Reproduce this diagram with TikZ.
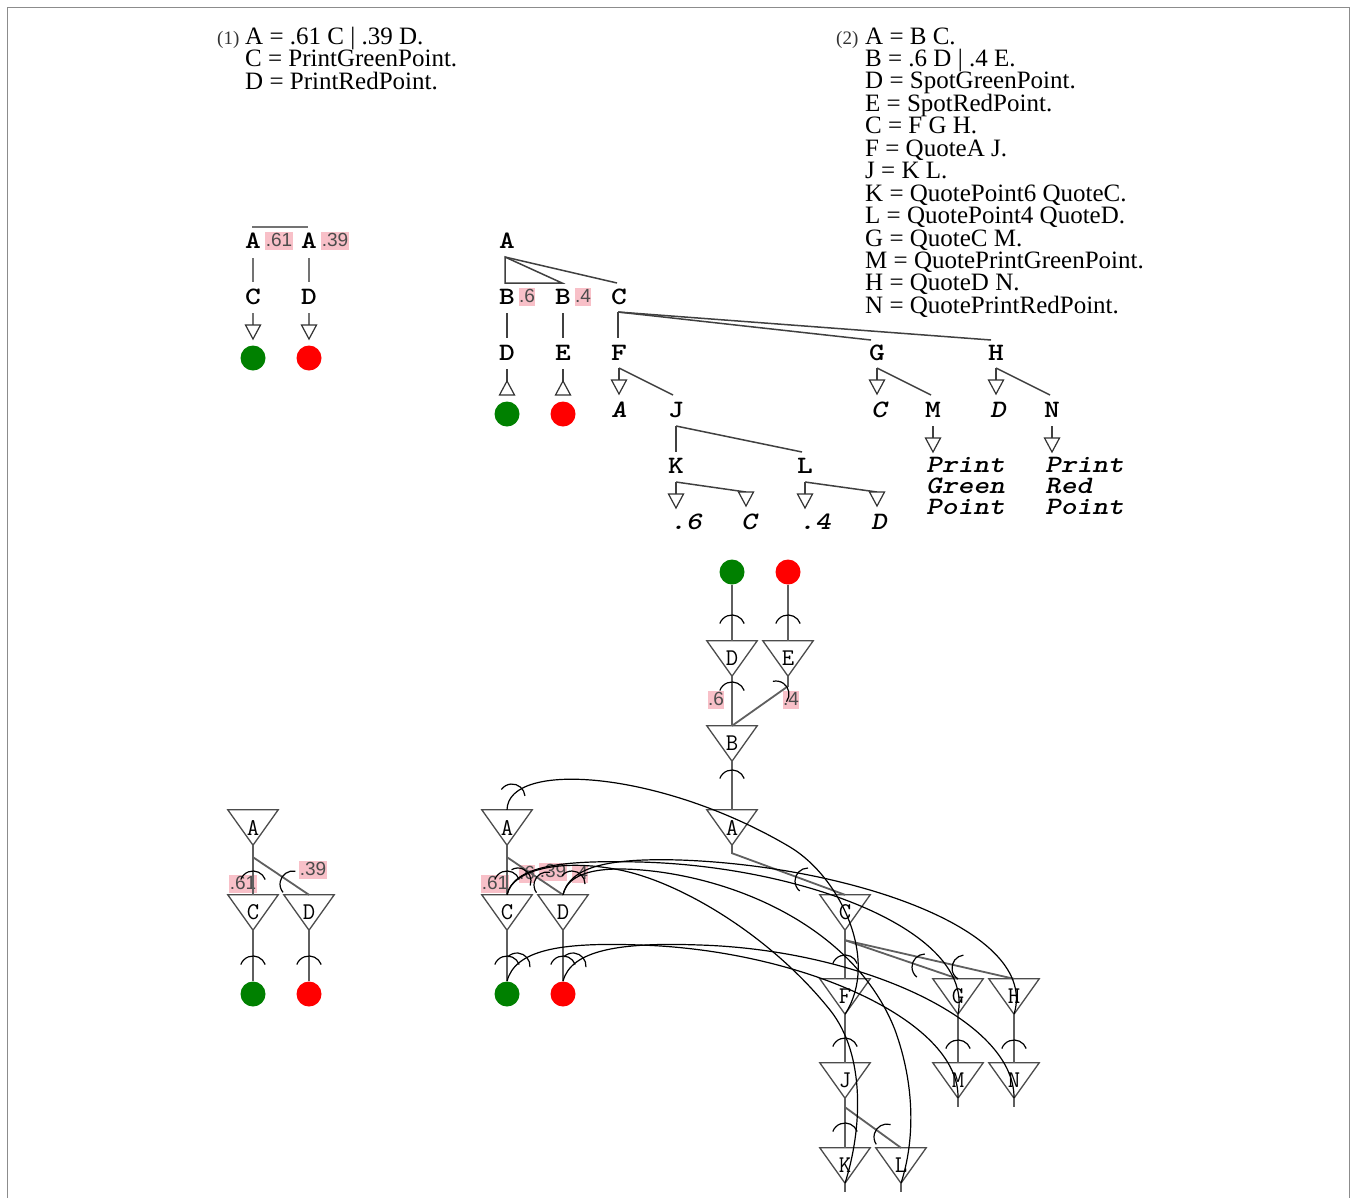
\documentclass[tikz,border=0pt]{standalone}
\usepackage{fontspec}
\setmainfont{Liberation Serif}
\newfontfamily\treefont[Extension=.otf, UprightFont=*-bold, ItalicFont=*-boldoblique, BoldFont=*-bold, BoldItalicFont=*-boldoblique, FakeStretch=1.2]{lmmonolt10}
\newfontfamily\labfont{Liberation Sans}
\usetikzlibrary{calc}
\definecolor{pinkbg}{RGB}{248,192,200}
\definecolor{ggreen}{RGB}{0,128,0}
\definecolor{rred}{RGB}{255,0,0}
\definecolor{edgegray}{RGB}{95,95,95}
\tikzset{
 gtext/.style={anchor=base west, inner sep=0, font=\fontsize{25}{22.5}\selectfont},
 numtext/.style={anchor=base west, inner sep=0, font=\fontsize{19}{19}\selectfont, text=black!80},
 tletter/.style={inner sep=0, font=\treefont\fontsize{25}{22}\selectfont},
 titalic/.style={inner sep=0, font=\treefont\itshape\fontsize{25}{21}\selectfont},
 pblock/.style={anchor=north west, inner sep=0, align=left, font=\treefont\itshape\fontsize{25}{21}\selectfont},
 plab/.style={fill=pinkbg, inner xsep=0.5pt, inner ysep=1pt, text=black!70, font=\labfont\fontsize{19}{19}\selectfont, text height=13.5pt, text depth=2pt},
 tri/.style={rectangle, minimum width=50pt, minimum height=35pt, inner sep=0, font=\ttfamily\fontsize{24}{24}\selectfont},
 triline/.style={draw=black!70, line width=1.3pt, line join=miter},
 edge/.style={draw=edgegray, line width=1.8pt},
 curve/.style={draw=black, line width=1.2pt},
 marcst/.style={draw=black, line width=1.2pt},
 dot/.style={circle, minimum size=25pt, inner sep=0},
 oarrow/.style={draw=black!80, line width=1.2pt, fill=white, line join=miter},
 tline/.style={draw=black!75, line width=1.5pt},
 gline/.style={draw=black!55, line width=1.8pt},
}
\newcommand\marc[3]{\draw[marcst] ($(#1,#2)+({#3-70}:13pt)$) arc[start angle={#3-70}, end angle={#3+70}, radius=13pt];}
\newcommand\darrow[2][tline]{\draw[#1] #2 -- ++(0,12) coordinate (tmpa); \draw[oarrow] (tmpa) ++(-7.5,0) -- ++(15,0) -- ++(-7.5,14) -- cycle;}
\newcommand\uarrow[1]{\draw[tline] #1 -- ++(0,12) coordinate (tmpa); \draw[oarrow] (tmpa) -- ++(-7.5,14) -- ++(15,0) -- cycle;}
\newcommand\tri[4]{\node[tri] (#1) at (#2,#3+17.5) {#4};}
\begin{document}
\begin{tikzpicture}[x=1pt,y=-1pt]
\fill[white] (0,0) rectangle (1356,1197);
\useasboundingbox (0,0) rectangle (1356,1197);
\draw[black!45, line width=1pt] (7,1210) -- (7,7) -- (1349,7) -- (1349,1210);

% ---------- grammar texts
\node[numtext] (g1n) at (217,44) {(1)};
\node[gtext] (g1a) at (245,44) {A = .61 C | .39 D.};
\node[gtext] (g1b) at (245,66.5) {C = PrintGreenPoint.};
\node[gtext] (g1c) at (245,89) {D = PrintRedPoint.};
\node[numtext] (g2n) at (836,44) {(2)};
\foreach \t [count=\i] in {A = B C., B = .6 D | .4 E., D = SpotGreenPoint., E = SpotRedPoint., C = F G H., F = QuoteA J., J = K L., K = QuotePoint6 QuoteC., L = QuotePoint4 QuoteD., G = QuoteC M., M = QuotePrintGreenPoint., H = QuoteD N., N = QuotePrintRedPoint.}
  \node[gtext] (g2l\i) at (865,{44+22.45*(\i-1)}) {\t};

% ---------- top tree (1)
\node[tletter] (ua1) at (253,241) {A};
\node[plab] (up61) at (279,241) {.61};
\node[tletter] (ua2) at (309,241) {A};
\node[plab] (up39) at (335,241) {.39};
\node[tletter] (uc) at (253,297) {C};
\node[tletter] (ud) at (309,297) {D};
\node[dot, fill=ggreen] (ug) at (253,358) {};
\node[dot, fill=rred] (ur) at (309,358) {};
\draw[gline] ($(ua1)+(-1,-14)$) -- ($(ua2)+(-1,-14)$);
\draw[gline] ($(ua1)+(0,17)$) -- ($(uc)+(0,-15)$);
\draw[gline] ($(ua2)+(0,17)$) -- ($(ud)+(0,-15)$);
\darrow[gline]{($(uc)+(0,16)$)}
\darrow[gline]{($(ud)+(0,16)$)}

% ---------- top tree (2)
\node[tletter] (tA) at (507,241) {A};
\node[tletter] (tB1) at (507,297) {B};
\node[plab] (tp6) at (527,297) {.6};
\node[tletter] (tB2) at (563,297) {B};
\node[plab] (tp4) at (583,297) {.4};
\node[tletter] (tC) at (619,297) {C};
\node[tletter] (tD) at (507,353) {D};
\node[tletter] (tE) at (563,353) {E};
\node[dot, fill=ggreen] (tg) at (507,414) {};
\node[dot, fill=rred] (tr) at (563,414) {};
\node[tletter] (tF) at (619,353) {F};
\node[tletter] (tG) at (877,353) {G};
\node[tletter] (tH) at (996,353) {H};
\node[titalic] (tqA) at (619,410) {A};
\node[tletter] (tJ) at (676,410) {J};
\node[titalic] (tqC1) at (879,410) {C};
\node[tletter] (tM) at (933,410) {M};
\node[titalic] (tqD1) at (998,410) {D};
\node[tletter] (tN) at (1052,410) {N};
\node[tletter] (tK) at (676,466) {K};
\node[tletter] (tL) at (805,466) {L};
\node[titalic] (tq6) at (686,522) {.6};
\node[titalic] (tqC2) at (749,522) {C};
\node[titalic] (tq4) at (815,522) {.4};
\node[titalic] (tqD2) at (879,522) {D};
\node[pblock] (pgreen) at (926,457.5) {Print\\Green\\Point};
\node[pblock] (pred) at (1045,457.5) {Print\\Red\\Point};

\draw[tline] ($(tA)+(-2,16)$) -- ($(tB1)+(-2,-14)$) -- ($(tB2)+(-1,-14)$) -- cycle;
\draw[tline] ($(tA)+(-2,16)$) -- ($(tC)+(-2,-14)$);
\draw[tline] ($(tB1)+(0,16)$) -- ($(tD)+(0,-15)$);
\draw[tline] ($(tB2)+(0,16)$) -- ($(tE)+(0,-15)$);
\uarrow{($(tD)+(0,16)$)}
\uarrow{($(tE)+(0,16)$)}
\draw[tline] ($(tC)+(-1,15)$) -- ($(tF)+(-1,-15)$);
\draw[tline] ($(tC)+(-1,15)$) -- ($(tG)+(-6,-13)$);
\draw[tline] ($(tC)+(-1,15)$) -- ($(tH)+(-5,-13)$);
\darrow{($(tF)+(0,15)$)}
\draw[tline] ($(tF)+(0,15)$) -- ($(tJ)+(-3,-15)$);
\draw[tline] ($(tJ)+(0,16)$) -- ($(tK)+(0,-14)$);
\draw[tline] ($(tJ)+(0,16)$) -- ($(tL)+(-3,-14)$);
\darrow{($(tK)+(0,16)$)}
\draw[tline] ($(tK)+(0,16)$) -- ($(tqC2)+(-3,-30)$);
\draw[oarrow] ($(tqC2)+(-10.5,-30)$) -- ++(15,0) -- ++(-7.5,14) -- cycle;
\darrow{($(tL)+(0,16)$)}
\draw[tline] ($(tL)+(0,16)$) -- ($(tqD2)+(-2,-30)$);
\draw[oarrow] ($(tqD2)+(-9.5,-30)$) -- ++(15,0) -- ++(-7.5,14) -- cycle;
\darrow{($(tG)+(0,15)$)}
\draw[tline] ($(tG)+(0,15)$) -- ($(tM)+(-2,-15)$);
\darrow{($(tH)+(0,15)$)}
\draw[tline] ($(tH)+(0,15)$) -- ($(tN)+(-2,-15)$);
\darrow{($(tM)+(0,16)$)}
\darrow{($(tN)+(0,16)$)}

% ---------- lower diagrams: triangles and dots
\tri{lA}{253}{810}{A}
\tri{lC}{253}{895}{C}
\tri{lD}{309}{895}{D}
\node[dot, fill=ggreen] (lg) at (253,994) {};
\node[dot, fill=rred] (lr) at (309,994) {};
\tri{mD}{732}{641}{D}
\tri{mE}{788}{641}{E}
\tri{mB}{732}{726}{B}
\tri{mA}{732}{810}{A}
\node[dot, fill=ggreen] (mg) at (732,572) {};
\node[dot, fill=rred] (mr) at (788,572) {};
\tri{nA}{507}{810}{A}
\tri{nC}{507}{895}{C}
\tri{nD}{563}{895}{D}
\node[dot, fill=ggreen] (ng) at (507,994) {};
\node[dot, fill=rred] (nr) at (563,994) {};
\tri{mC}{845}{895}{C}
\tri{mF}{845}{979}{F}
\tri{mG}{958}{979}{G}
\tri{mH}{1014}{979}{H}
\tri{mJ}{845}{1063}{J}
\tri{mM}{958}{1063}{M}
\tri{mN}{1014}{1063}{N}
\tri{mK}{845}{1148}{K}
\tri{mL}{901}{1148}{L}
\foreach \n in {lA,lC,lD,mD,mE,mB,mA,nA,nC,nD,mC,mF,mG,mH,mJ,mM,mN,mK,mL}
  \draw[triline] (\n.north west) -- (\n.north east) -- (\n.south) -- cycle;

% labels
\node[plab] (l61) at (243,884) {.61};
\node[plab] (l39) at (313,870) {.39};
\node[plab] (m6) at (716,700) {.6};
\node[plab] (m4) at (791,700) {.4};
\node[plab] (n61) at (495,884) {.61};
\node[plab] (n6) at (527,874) {.6};
\node[plab] (n39) at (553,872) {.39};
\node[plab] (n4) at (580,874) {.4};

% edges
\draw[edge] (lA.south) -- (lC.north);
\draw[edge] ($(lA.south)+(0,12)$) -- (lD.north);
\draw[edge] (lC.south) -- (lg.north);
\draw[edge] (lD.south) -- (lr.north);
\draw[edge] (mg.south) -- (mD.north);
\draw[edge] (mr.south) -- (mE.north);
\draw[edge] (mD.south) -- (mB.north);
\draw[edge] (mE.south) -- ++(0,10) -- (mB.north);
\draw[edge] (mB.south) -- (mA.north);
\draw[edge] (mA.south) -- ++(0,8) -- (mC.north);
\draw[edge] (nA.south) -- (nC.north);
\draw[edge] ($(nA.south)+(0,12)$) -- (nD.north);
\draw[edge] (nC.south) -- (ng.north);
\draw[edge] (nD.south) -- (nr.north);
\draw[edge] (mC.south) -- (mF.north);
\draw[edge] ($(mC.south)+(0,10)$) -- (mG.north);
\draw[edge] ($(mC.south)+(0,10)$) -- (mH.north);
\draw[edge] (mF.south) -- (mJ.north);
\draw[edge] (mG.south) -- (mM.north);
\draw[edge] (mH.south) -- (mN.north);
\draw[edge] (mJ.south) -- (mK.north);
\draw[edge] ($(mJ.south)+(0,9)$) -- (mL.north);
\foreach \n in {mK,mL,mM,mN} \draw[edge] (\n.south) -- ++(0,9);

% edge arcs
\marc{253}{884}{90}
\marc{293}{884}{150}
\marc{253}{969}{90}
\marc{309}{969}{90}
\marc{732}{628}{90}
\marc{788}{628}{90}
\marc{732}{695}{90}
\marc{776}{694}{34}
\marc{732}{783}{90}
\marc{808}{881}{160}
\marc{507}{884}{90}
\marc{547}{885}{146}
\marc{507}{969}{90}
\marc{563}{969}{90}
\marc{845}{968}{90}
\marc{925}{967}{161}
\marc{965}{968}{167}
\marc{845}{1051}{90}
\marc{958}{1053}{90}
\marc{1014}{1053}{90}
\marc{845}{1136}{90}
\marc{887}{1137}{144}

% quotation curves
\draw[curve] (nA.north) .. controls (508,760) and (660,770) .. (790,847) .. controls (840,877) and (880,960) .. (mF.south);
\draw[curve] (nC.north) .. controls (512,870) and (560,858) .. (620,870) .. controls (680,882) and (770,935) .. (830,1010) .. controls (866,1055) and (862,1130) .. (mK.south);
\draw[curve] (nC.north) .. controls (514,866) and (560,860) .. (640,862) .. controls (800,866) and (975,930) .. (mG.south);
\draw[curve] (nD.north) .. controls (568,872) and (600,864) .. (660,872) .. controls (760,886) and (860,940) .. (895,1030) .. controls (915,1085) and (915,1140) .. (mL.south);
\draw[curve] (nD.north) .. controls (570,866) and (610,858) .. (680,860) .. controls (850,866) and (1040,930) .. (mH.south);
\draw[curve] (ng.north) .. controls (515,950) and (560,942) .. (640,945) .. controls (800,950) and (960,1020) .. (mM.south);
\draw[curve] (nr.north) .. controls (571,950) and (620,942) .. (700,945) .. controls (860,950) and (1015,1020) .. (mN.south);
\marc{512}{797}{75}
\marc{517}{966}{65}
\marc{573}{966}{65}
\marc{518}{881}{50}
\marc{572}{884}{70}
\end{tikzpicture}
\end{document}
